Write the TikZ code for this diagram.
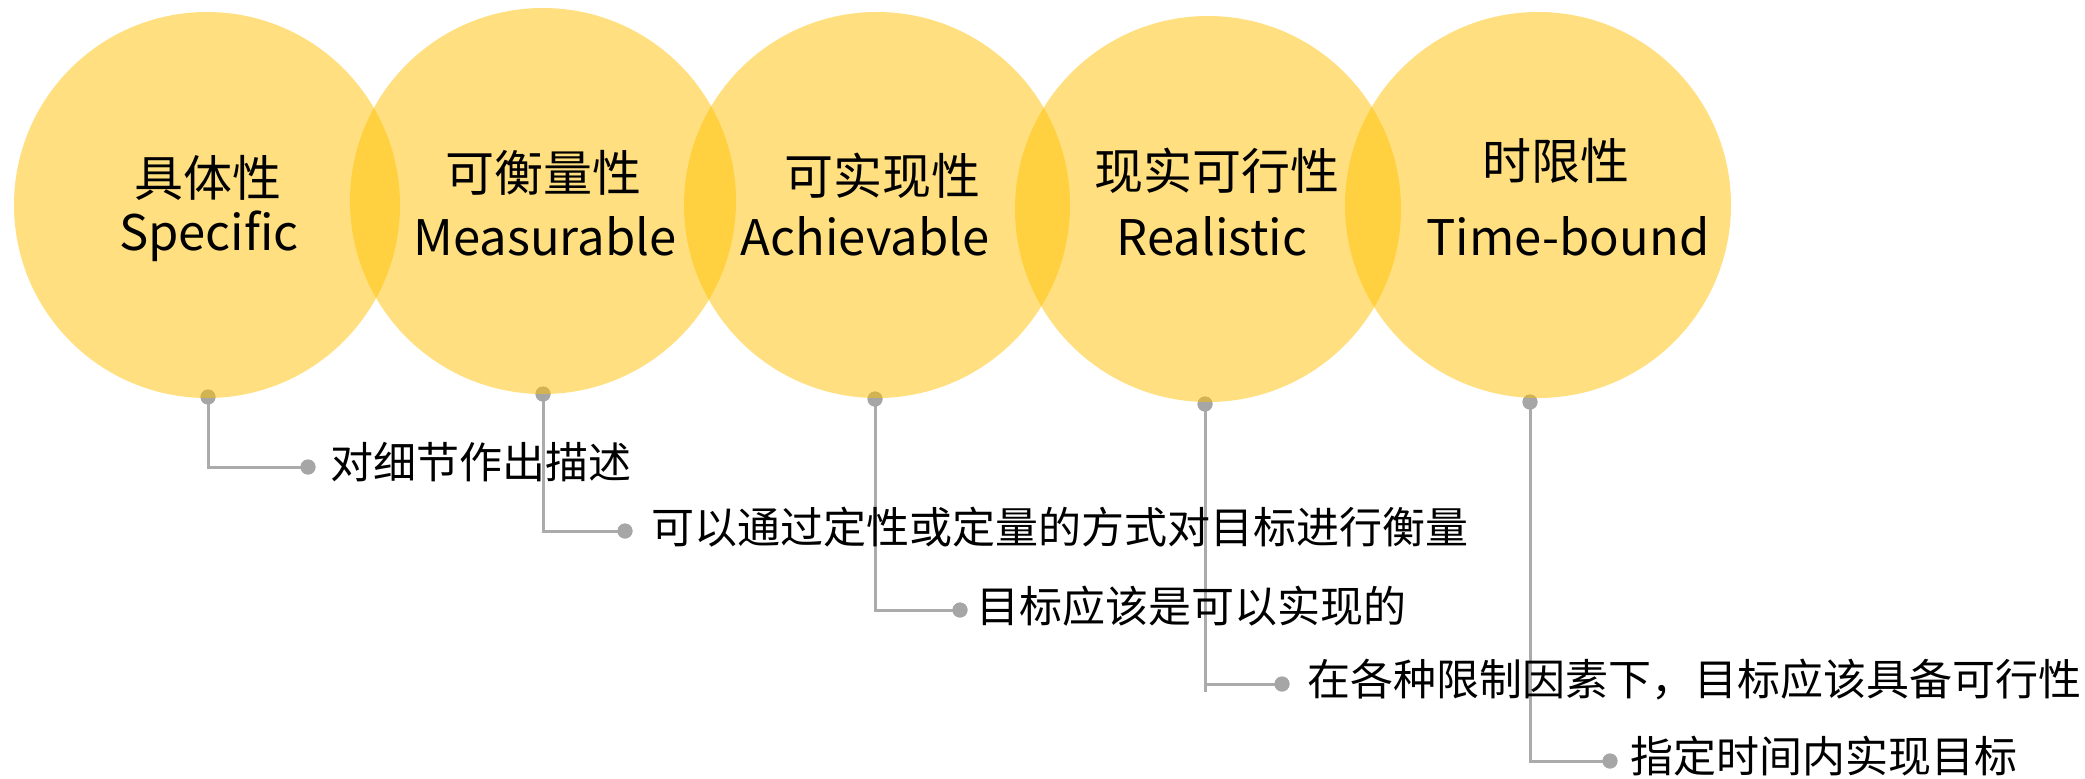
\documentclass[tikz,border=0pt]{standalone}
\usepackage{fontspec}
\setmainfont{Noto Sans CJK SC}
\begin{document}
\begin{tikzpicture}[x=0.5pt,y=-0.5pt,
  circ/.style={circle,fill=ycol,fill opacity=0.5,minimum size=193pt,inner sep=0pt},
  gdot/.style={circle,fill=gcol,minimum size=7.5pt,inner sep=0pt},
  conn/.style={draw=lcol,line width=1.5pt},
  ttl/.style={anchor=base,inner sep=0pt,font=\fontsize{24.5pt}{29pt}\selectfont},
  lbl/.style={anchor=west,inner sep=0pt,font=\fontsize{21.5pt}{26pt}\selectfont}]
\definecolor{ycol}{HTML}{FFC000}
\definecolor{gcol}{HTML}{A6A6A6}
\definecolor{lcol}{HTML}{ABABAB}
\useasboundingbox (0,0) rectangle (2085,778);
% circle bottom dots
\node[gdot] (d1) at (208,397) {};
\node[gdot] (d2) at (543,394) {};
\node[gdot] (d3) at (875,399) {};
\node[gdot] (d4) at (1205,404) {};
\node[gdot] (d5) at (1530,402) {};
% label dots
\node[gdot] (e1) at (308,467) {};
\node[gdot] (e2) at (625,531) {};
\node[gdot] (e3) at (960,610) {};
\node[gdot] (e4) at (1282,684) {};
\node[gdot] (e5) at (1610,761) {};
% connectors
\draw[conn] (d1.center) |- (e1.center);
\draw[conn] (d2.center) |- (e2.center);
\draw[conn] (d3.center) |- (e3.center);
\draw[conn] (d4.center) -- (d4.center |- 0,692);
\draw[conn] (d4.center) |- (e4.center);
\draw[conn] (d5.center) |- (e5.center);
\node[gdot] at (d1) {};
\node[gdot] at (d2) {};
\node[gdot] at (d3) {};
\node[gdot] at (d4) {};
\node[gdot] at (d5) {};
% circles
\node[circ] (c1) at (207,205) {};
\node[circ] (c2) at (543,201) {};
\node[circ] (c3) at (877,205) {};
\node[circ] (c4) at (1208,209) {};
\node[circ] (c5) at (1538,205) {};
\node[gdot] at (e1) {};
\node[gdot] at (e2) {};
\node[gdot] at (e3) {};
\node[gdot] at (e4) {};
\node[gdot] at (e5) {};
% titles
\node[ttl] (z1) at (208,196) {具体性};
\node[ttl] (n1) at (209,250) {Specific};
\node[ttl] (z2) at (543,191) {可衡量性};
\node[ttl] (n2) at (545,255) {Measurable};
\node[ttl] (z3) at (882,194) {可实现性};
\node[ttl] (n3) at (865,255) {Achievable};
\node[ttl] (z4) at (1217,189) {现实可行性};
\node[ttl] (n4) at (1212,255) {Realistic};
\node[ttl] (z5) at (1556,179) {时限性};
\node[ttl] (n5) at (1568,255) {Time-bound};
% labels
\node[lbl] (t1) at (330,462) {对细节作出描述};
\node[lbl] (t2) at (651,527) {可以通过定性或定量的方式对目标进行衡量};
\node[lbl] (t3) at (976,606) {目标应该是可以实现的};
\node[lbl] (t4) at (1307,680) {在各种限制因素下，目标应该具备可行性};
\node[lbl] (t5) at (1630,756) {指定时间内实现目标};
\end{tikzpicture}
\end{document}
